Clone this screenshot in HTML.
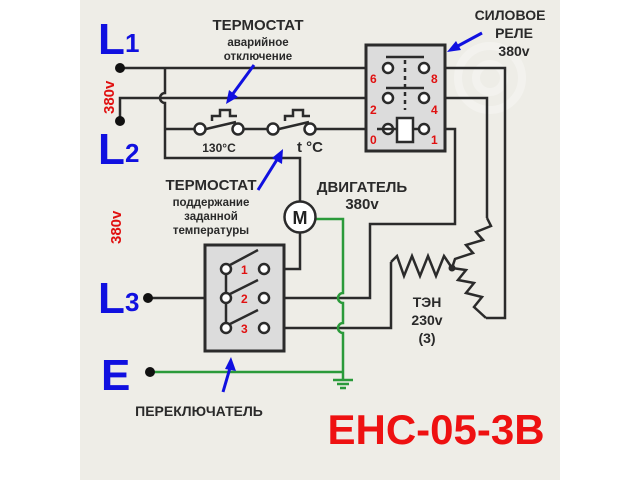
<!DOCTYPE html>
<html><head><meta charset="utf-8"><style>
html,body{margin:0;padding:0;background:#fff;}
svg{display:block}
text{font-family:"Liberation Sans","DejaVu Sans",sans-serif;font-weight:bold;}
</style></head><body>
<svg width="640" height="480" viewBox="0 0 640 480" xmlns="http://www.w3.org/2000/svg">
<rect x="80" y="0" width="480" height="480" fill="#eeede7"/>
<g opacity="0.3" fill="none" stroke="#fff" stroke-width="8">
<circle cx="490" cy="78" r="32"/>
<circle cx="490" cy="78" r="14"/>
</g>
<g fill="none" stroke="#2b2b2b" stroke-width="2.5" stroke-linejoin="miter">
<path d="M120 68 H377"/>
<path d="M120 121 V98 H377"/>
<path d="M165 68 V93 a5 5 0 0 0 0 10 V158 H300 V201"/>
<path d="M165 129 H194 M206 129 L236 122 M244 129 H267 M279 129 L309 122 M316 129 H382"/>
<path d="M300 233 V269 H270"/>
<path d="M150 298 H220"/>
<path d="M270 298 H370 V224 H455 V129 H430"/>
<path d="M270 328 H391 V262"/>
<path d="M430 68 H505 V318 H486"/>
<path d="M430 98 H487 V218"/>
<path d="M391 262 L397 256 L404 276 L412 256 L420 276 L428 256 L436 276 L444 256 L452 268"/>
<path d="M487 218 L491 226 L476 232 L483 240 L466 245 L473 253 L455 259 L452 268"/>
<path d="M452 268 L466 270 L458 280 L474 283 L466 293 L482 297 L474 307 L486 318"/>
<path d="M212 121 V116 H220 V110 H230 V116 H237"/>
<path d="M285 121 V116 H293 V110 H303 V116 H310"/>
</g>
<circle cx="452" cy="268" r="3.5" fill="#2b2b2b"/>
<g fill="none" stroke="#2a9a3a" stroke-width="2.5">
<path d="M316 219 H343 V293 a5 5 0 0 0 0 10 V323 a5 5 0 0 0 0 10 V380"/>
<path d="M150 372 H343"/>
<path d="M333 380 H353 M337 384 H349 M340 388 H346"/>
</g>
<g fill="#111"><circle cx="120" cy="68" r="5"/><circle cx="120" cy="121" r="5"/><circle cx="148" cy="298" r="5"/><circle cx="150" cy="372" r="5"/></g>
<g fill="#fff" stroke="#2b2b2b" stroke-width="2.5">
<circle cx="200" cy="129" r="5.5"/><circle cx="238" cy="129" r="5.5"/>
<circle cx="273" cy="129" r="5.5"/><circle cx="310" cy="129" r="5.5"/>
</g>
<circle cx="300" cy="217" r="15.5" fill="#fff" stroke="#2b2b2b" stroke-width="2.5"/>
<text x="300" y="224" font-size="18" text-anchor="middle" fill="#222">M</text>
<rect x="366" y="45" width="79" height="106" fill="#dcdcdc" stroke="#2b2b2b" stroke-width="3"/>
<g stroke="#2b2b2b" stroke-width="2.5" fill="none">
<path d="M386 57 H424 M386 88 H424"/>
<path d="M405 60 V110" stroke-dasharray="4 4"/>
</g>
<rect x="397" y="118" width="16" height="24" fill="#fff" stroke="#2b2b2b" stroke-width="2.5"/>
<g fill="#fff" stroke="#2b2b2b" stroke-width="2.5">
<circle cx="388" cy="68" r="5"/><circle cx="424" cy="68" r="5"/>
<circle cx="388" cy="98" r="5"/><circle cx="424" cy="98" r="5"/>
<circle cx="388" cy="129" r="5"/><circle cx="424" cy="129" r="5"/>
</g>
<path d="M377 129 H397 M413 129 H419" stroke="#2b2b2b" stroke-width="2.5"/>
<g fill="#e01010" font-size="12">
<text x="370" y="83">6</text><text x="431" y="83">8</text>
<text x="370" y="114">2</text><text x="431" y="114">4</text>
<text x="370" y="144">0</text><text x="431" y="144">1</text>
</g>
<rect x="205" y="245" width="79" height="106" fill="#dcdcdc" stroke="#2b2b2b" stroke-width="3"/>
<g stroke="#2b2b2b" stroke-width="2.5" fill="none">
<path d="M226 269 V328"/>
<path d="M230 265 L258 250 M230 294 L258 280 M230 324 L258 310"/>
</g>
<g fill="#fff" stroke="#2b2b2b" stroke-width="2.5">
<circle cx="226" cy="269" r="5"/><circle cx="264" cy="269" r="5"/>
<circle cx="226" cy="298" r="5"/><circle cx="264" cy="298" r="5"/>
<circle cx="226" cy="328" r="5"/><circle cx="264" cy="328" r="5"/>
</g>
<g fill="#e01010" font-size="12"><text x="241" y="274">1</text><text x="241" y="303">2</text><text x="241" y="333">3</text></g>
<g stroke="#1010e0" stroke-width="3" fill="#1010e0">
<path d="M254 65 L232 95" /><polygon points="226,104 229,90 238,97" stroke="none"/>
<path d="M258 190 L278 158" /><polygon points="283,149 282,164 272,158" stroke="none"/>
<path d="M223 392 L230 368" /><polygon points="231,357 236,371 225,369" stroke="none"/>
<path d="M482 33 L456 47" /><polygon points="447,52 456,41 461,50" stroke="none"/>
</g>
<g fill="#1010e0" font-size="44">
<text x="98" y="54">L</text><text x="125" y="52" font-size="26">1</text>
<text x="98" y="164">L</text><text x="125" y="162" font-size="26">2</text>
<text x="98" y="313">L</text><text x="125" y="311" font-size="26">3</text>
<text x="101" y="390">E</text>
</g>
<g fill="#e01010" font-size="15">
<text transform="translate(114,114) rotate(-90)">380v</text>
<text transform="translate(121,244) rotate(-90)">380v</text>
</g>
<g fill="#2a2a2a" text-anchor="middle">
<text x="258" y="30" font-size="15">ТЕРМОСТАТ</text>
<text x="258" y="46" font-size="11.5">аварийное</text>
<text x="258" y="60" font-size="11.5">отключение</text>
<text x="219" y="152" font-size="12">130°C</text>
<text x="310" y="152" font-size="15">t °C</text>
<text x="211" y="190" font-size="15">ТЕРМОСТАТ</text>
<text x="211" y="206" font-size="11.5">поддержание</text>
<text x="211" y="220" font-size="11.5">заданной</text>
<text x="211" y="234" font-size="11.5">температуры</text>
<text x="362" y="192" font-size="15">ДВИГАТЕЛЬ</text>
<text x="362" y="209" font-size="15">380v</text>
<text x="510" y="20" font-size="14">СИЛОВОЕ</text>
<text x="514" y="38" font-size="14">РЕЛЕ</text>
<text x="514" y="56" font-size="14">380v</text>
<text x="427" y="307" font-size="14">ТЭН</text>
<text x="427" y="325" font-size="14">230v</text>
<text x="427" y="343" font-size="14">(3)</text>
<text x="199" y="416" font-size="14">ПЕРЕКЛЮЧАТЕЛЬ</text>
</g>
<text x="436" y="444" font-size="42" fill="#ee1111" text-anchor="middle">ЕНС-05-3В</text>
</svg>
</body></html>
